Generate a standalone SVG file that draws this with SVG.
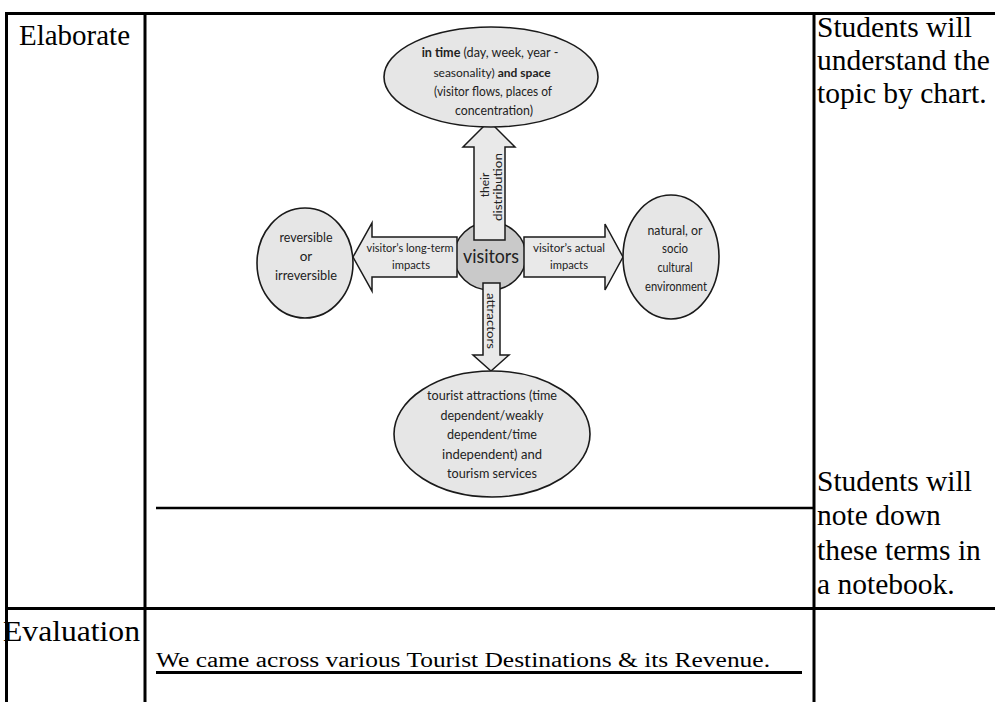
<svg xmlns="http://www.w3.org/2000/svg" width="995" height="702" viewBox="0 0 995 702">
<style>
.tl{stroke:#000;stroke-width:3;fill:none}
.serif{font-family:"Liberation Serif","Times New Roman",serif;fill:#000}
.big{font-size:29.5px}
.dg{font-family:Lato,"Open Sans","Liberation Sans",sans-serif;fill:#222;text-anchor:middle;font-size:13.5px}
.sm{font-size:12px}
.ell{fill:#e6e6e6;stroke:#1a1a1a;stroke-width:1.6}
.arr{fill:#e9e9e9;stroke:#1a1a1a;stroke-width:1.5;stroke-linejoin:miter}
</style>
<rect width="995" height="702" fill="#fff"/>
<g id="table">
<line class="tl" x1="5" y1="13.5" x2="995" y2="13.5"/>
<line class="tl" x1="6.5" y1="12" x2="6.5" y2="702"/>
<line class="tl" x1="145" y1="12" x2="145" y2="702"/>
<line class="tl" x1="814" y1="12" x2="814" y2="702"/>
<line class="tl" x1="5" y1="608.5" x2="995" y2="608.5"/>
<line x1="156" y1="508" x2="814" y2="508" stroke="#000" stroke-width="2.5"/>
<line x1="156" y1="672.5" x2="802" y2="672.5" stroke="#000" stroke-width="3"/>
</g>
<g id="cells">
<text class="serif big" x="19" y="45" textLength="111" lengthAdjust="spacingAndGlyphs">Elaborate</text>
<text class="serif big" x="3" y="641" textLength="137" lengthAdjust="spacingAndGlyphs">Evaluation</text>
<text class="serif big" x="817" y="37">Students will</text>
<text class="serif big" x="817" y="70">understand the</text>
<text class="serif big" x="817" y="103">topic by chart.</text>
<text class="serif big" x="817" y="491">Students will</text>
<text class="serif big" x="817" y="525">note down</text>
<text class="serif big" x="817" y="560">these terms in</text>
<text class="serif big" x="817" y="594">a notebook.</text>
<text class="serif" x="156" y="667" font-size="20.5" textLength="614" lengthAdjust="spacingAndGlyphs">We came across various Tourist Destinations &amp; its Revenue.</text>
</g>
<g id="visitors">
<ellipse class="ell" cx="490" cy="256" rx="36" ry="34" style="fill:#c9c9c9"/>
</g>
<g id="connectors">
<polygon class="arr" points="474,240 474,147 463,147 489,121 515,147 505,147 505,240"/>
<polygon class="arr" points="457,237 372,237 372,223 353,257 372,291 372,277 457,277"/>
<polygon class="arr" points="524,237 605,237 605,224 623,257 605,290 605,277 524,277"/>
<polygon class="arr" points="483,283 483,355 473,355 491,371 509,355 500,355 500,283"/>
<text class="dg sm" transform="translate(489,185) rotate(-90)">their</text>
<text class="dg sm" transform="translate(502,187) rotate(-90)" textLength="68" lengthAdjust="spacingAndGlyphs">distribution</text>
<text class="dg sm" transform="translate(487,321) rotate(90)" textLength="56" lengthAdjust="spacingAndGlyphs">attractors</text>
<text class="dg sm" x="410" y="252" textLength="87" lengthAdjust="spacingAndGlyphs">visitor’s long-term</text>
<text class="dg sm" x="411" y="269" textLength="38" lengthAdjust="spacingAndGlyphs">impacts</text>
<text class="dg sm" x="569" y="252" textLength="72" lengthAdjust="spacingAndGlyphs">visitor’s actual</text>
<text class="dg sm" x="569" y="269" textLength="38" lengthAdjust="spacingAndGlyphs">impacts</text>
</g>
<g id="visitors-label">
<text class="dg" style="font-size:20px" x="491" y="263" textLength="56" lengthAdjust="spacingAndGlyphs">visitors</text>
</g>
<g id="node-time-space">
<ellipse class="ell" cx="491" cy="77" rx="107" ry="50"/>
<text class="dg" x="490" y="57" style="font-size:12.6px"><tspan font-weight="bold">in time</tspan> (day, week, year -</text>
<text class="dg" x="492" y="77" style="font-size:12px">seasonality) <tspan font-weight="bold">and space</tspan></text>
<text class="dg" x="493" y="96" textLength="118" lengthAdjust="spacingAndGlyphs">(visitor flows, places of</text>
<text class="dg" x="494" y="115" textLength="78" lengthAdjust="spacingAndGlyphs">concentration)</text>
</g>
<g id="node-reversible">
<ellipse class="ell" cx="305" cy="263" rx="48" ry="55"/>
<text class="dg" x="306" y="242" textLength="53" lengthAdjust="spacingAndGlyphs">reversible</text>
<text class="dg" x="306" y="261">or</text>
<text class="dg" x="306" y="280" textLength="62" lengthAdjust="spacingAndGlyphs">irreversible</text>
</g>
<g id="node-environment">
<ellipse class="ell" cx="671" cy="257" rx="48" ry="62"/>
<text class="dg" x="675" y="235" textLength="55" lengthAdjust="spacingAndGlyphs">natural, or</text>
<text class="dg" x="675" y="253" textLength="26" lengthAdjust="spacingAndGlyphs">socio</text>
<text class="dg" x="675" y="272" textLength="35" lengthAdjust="spacingAndGlyphs">cultural</text>
<text class="dg" x="676" y="291" textLength="62" lengthAdjust="spacingAndGlyphs">environment</text>
</g>
<g id="node-attractions">
<ellipse class="ell" cx="492" cy="434" rx="98" ry="63"/>
<text class="dg" x="492" y="400" textLength="130" lengthAdjust="spacingAndGlyphs">tourist attractions (time</text>
<text class="dg" x="492" y="420" textLength="103" lengthAdjust="spacingAndGlyphs">dependent/weakly</text>
<text class="dg" x="492" y="439" textLength="90" lengthAdjust="spacingAndGlyphs">dependent/time</text>
<text class="dg" x="492" y="459" textLength="100" lengthAdjust="spacingAndGlyphs">independent) and</text>
<text class="dg" x="492" y="478" textLength="90" lengthAdjust="spacingAndGlyphs">tourism services</text>
</g>
</svg>
